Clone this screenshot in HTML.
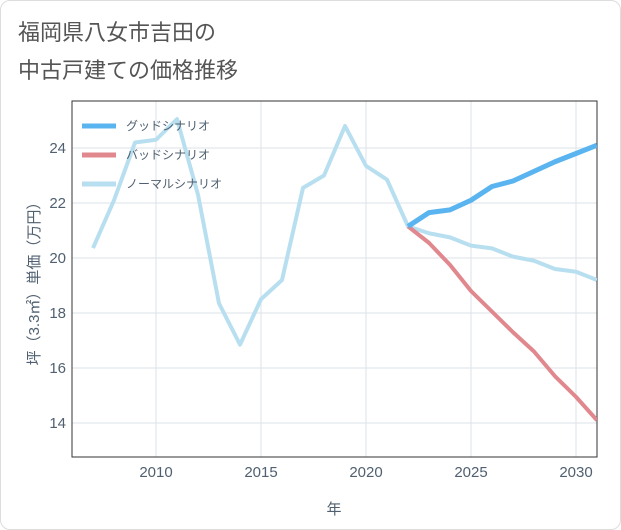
<!DOCTYPE html>
<html><head><meta charset="utf-8"><style>
body{margin:0;background:#fff;font-family:"Liberation Sans","Noto Sans CJK JP",sans-serif;}
#wrap{position:relative;width:619px;height:528px;border:1px solid #ddd;border-radius:10px;overflow:hidden;background:#fff}
</style></head><body>
<div id="wrap">
<svg id="chart" width="621" height="530" style="position:absolute;left:-1px;top:-1px">
<text x="18" y="40" font-size="22" fill="#555">福岡県八女市吉田の</text>
<text x="18" y="78" font-size="22" fill="#555">中古戸建ての価格推移</text>
</svg>
</div>
<script>
const years=[2007,2008,2009,2010,2011,2012,2013,2014,2015,2016,2017,2018,2019,2020,2021,2022,2023,2024,2025,2026,2027,2028,2029,2030,2031];
const normal=[20.36,22.1,24.2,24.3,25.05,22.3,18.35,16.85,18.5,19.2,22.55,23.0,24.8,23.35,22.85,21.15,20.9,20.75,20.45,20.35,20.05,19.9,19.6,19.5,19.2];
const futureYears=[2022,2023,2024,2025,2026,2027,2028,2029,2030,2031];
const good=[21.15,21.65,21.75,22.1,22.6,22.8,23.15,23.5,23.8,24.1];
const bad=[21.15,20.55,19.75,18.8,18.05,17.3,16.6,15.7,14.95,14.1];
const xTicks=[2010,2015,2020,2025,2030];
const yTicks=[14,16,18,20,22,24];
const legendLabels=["グッドシナリオ","バッドシナリオ","ノーマルシナリオ"];
const NS="http://www.w3.org/2000/svg";
const svg=document.getElementById('chart');
const L=72,R=597,T=101,B=457;
const x=v=>156+(v-2010)*21;
const y=v=>148+(24-v)*27.5;
function mk(t,a){const e=document.createElementNS(NS,t);for(const k in a)e.setAttribute(k,a[k]);svg.appendChild(e);return e;}
for(const t of xTicks){const g=mk('line',{x1:x(t),x2:x(t),y1:T,y2:B,stroke:'#dde3ea'});


const l=mk('text',{x:x(t),y:B+20,'text-anchor':'middle','font-size':15,fill:'#506070'});l.textContent=t;

}
for(const t of yTicks){const g=mk('line',{x1:L,x2:R,y1:y(t),y2:y(t),stroke:'#dde3ea'});


const l=mk('text',{x:L-6,y:y(t)+5,'text-anchor':'end','font-size':15,fill:'#506070'});l.textContent=t;

}
const box=mk('rect',{x:L,y:T,width:R-L,height:B-T,fill:'none',stroke:'#333','stroke-width':1});


const clip=mk('clipPath',{id:'c'});const cr=document.createElementNS(NS,'rect');cr.setAttribute('x',L);cr.setAttribute('y',T);cr.setAttribute('width',R-L);cr.setAttribute('height',B-T);clip.appendChild(cr);
function line(xs,vs,col,w,name){const p=mk('polyline',{points:xs.map((v,i)=>x(v)+','+y(vs[i])).join(' '),fill:'none',stroke:col,'stroke-width':w,'stroke-linejoin':'round','clip-path':'url(#c)'});

}
line(years,normal,'#b8dff0',4,'normal-scenario-line');
line(futureYears,bad,'#e0888e',4,'bad-scenario-line');
line(futureYears,good,'#5ab4ef',5,'good-scenario-line');
const cols=['#5ab4ef','#e0888e','#b8dff0'];
legendLabels.forEach((s,i)=>{const yy=126+i*29;
const m=mk('line',{x1:82,x2:116,y1:yy,y2:yy,stroke:cols[i],'stroke-width':5});


const t=mk('text',{x:126,y:yy+4,'font-size':12,fill:'#506070'});t.textContent=s;

});
const xt=mk('text',{x:334,y:514,'text-anchor':'middle','font-size':15,fill:'#506070'});xt.textContent='年';


const yt=mk('text',{x:0,y:0,'text-anchor':'middle','font-size':15,fill:'#506070',transform:'translate(39,280) rotate(-90)'});yt.textContent='坪（3.3㎡）単価（万円）';


</script>
</body></html>
